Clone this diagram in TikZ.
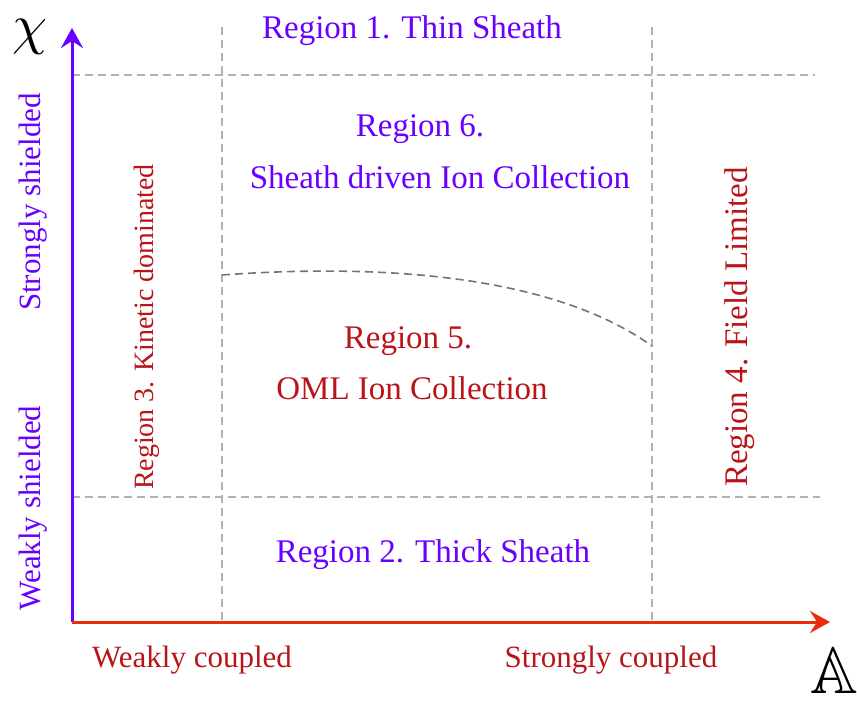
\documentclass[tikz,border=0pt]{standalone}
\usepackage{fontspec}
\setmainfont{Liberation Serif}
\usepackage{amsmath,amssymb}
\usetikzlibrary{arrows.meta}
\definecolor{axblue}{RGB}{105,0,255}
\definecolor{axred}{RGB}{232,45,10}
\definecolor{txtred}{RGB}{185,20,25}
\definecolor{gridgray}{RGB}{178,178,178}
\definecolor{curvegray}{RGB}{115,115,115}

\begin{document}
\begin{tikzpicture}
  [x=1pt,y=-1pt,
   bluetxt/.style={text=axblue,font=\fontsize{33}{38}\selectfont},
   redtxt/.style={text=txtred,font=\fontsize{33}{38}\selectfont},
   labsize/.style={font=\fontsize{31}{36}\selectfont},
   gridline/.style={draw=gridgray,line width=1.4pt,dash pattern=on 8pt off 5pt},
   axis/.style={line width=3pt,-{Stealth[length=20pt,width=22pt,inset=7pt]}}]
  \useasboundingbox (0,0) rectangle (857,702);
  % corners and ends
  \coordinate (o) at (72,622);
  \coordinate (ytop) at (72,28);
  \coordinate (xend) at (830,622);
  \coordinate (v1t) at (222,27);
  \coordinate (v1b) at (222,622);
  \coordinate (v2t) at (652,27);
  \coordinate (v2b) at (652,622);
  \coordinate (h1l) at (72,75);
  \coordinate (h1r) at (815,75);
  \coordinate (h2l) at (72,497);
  \coordinate (h2r) at (820,497);
  \coordinate (c1) at (222,275);
  \coordinate (c2) at (652,346);
  % grid
  \foreach \from/\to in {v1t/v1b,v2t/v2b,h1l/h1r,h2l/h2r}
    \draw[gridline] (\from) -- (\to);
  \draw[draw=curvegray,line width=1.6pt,dash pattern=on 8pt off 5pt]
    (c1) .. controls (400,262) and (560,280) .. (c2);
  % axes
  \draw[axis,axblue] (o) -- (ytop);
  \draw[axis,axred] (o) -- (xend);
  \node[scale=5.6,transform shape,inner sep=0pt] (chi) at (30,37) {$\chi$};
  \node[scale=6.6,transform shape,inner sep=0pt] (aa) at (834,671) {$\mathbb{A}$};
  % regions
  \node[bluetxt] (r1) at (412,31) {Region 1. Thin Sheath};
  \node[bluetxt] (r6) at (420,129) {Region 6.};
  \node[bluetxt] (r6b) at (440,177) {Sheath driven Ion Collection};
  \node[redtxt] (r5) at (408,341) {Region 5.};
  \node[redtxt] (r5b) at (412,388) {OML Ion Collection};
  \node[bluetxt] (r2) at (433,555) {Region 2. Thick Sheath};
  \node[redtxt,rotate=90,font=\fontsize{28}{33}\selectfont] (r3) at (147,327) {Region 3. Kinetic dominated};
  \node[redtxt,rotate=90] (r4) at (740,327) {Region 4. Field Limited};
  % axis labels
  \node[bluetxt,labsize,rotate=90] (strong) at (33,202) {Strongly shielded};
  \node[bluetxt,labsize,rotate=90] (weak) at (33,508) {Weakly shielded};
  \node[redtxt,labsize] (wc) at (192,660) {Weakly coupled};
  \node[redtxt,labsize] (sc) at (611,660) {Strongly coupled};
\end{tikzpicture}
\end{document}
